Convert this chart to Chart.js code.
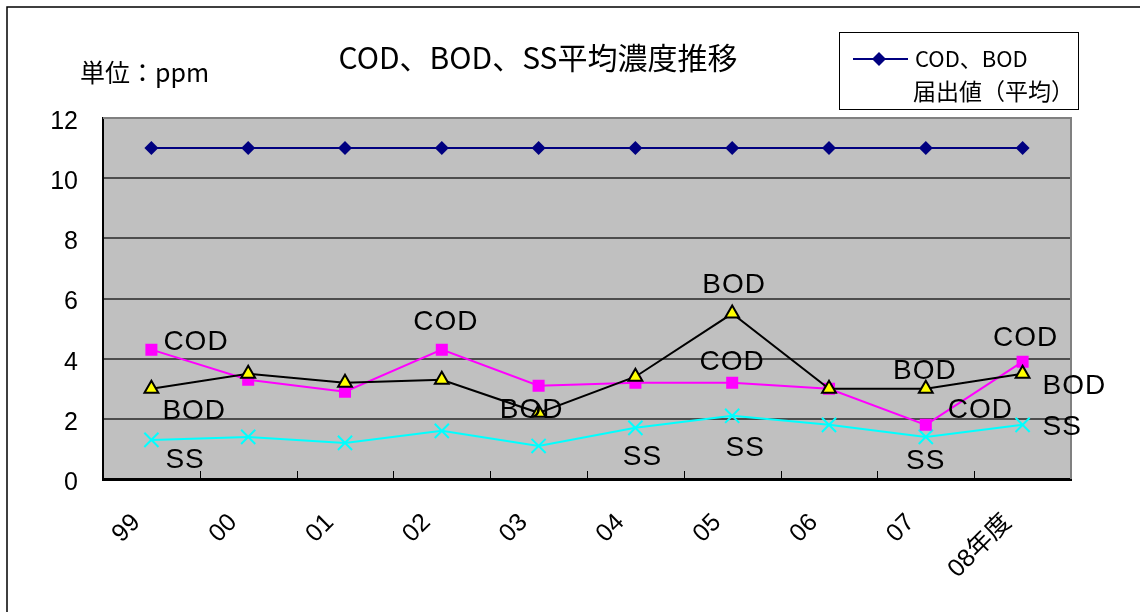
<!DOCTYPE html>
<html>
<head>
<meta charset="utf-8">
<script src="https://cdn.jsdelivr.net/npm/chart.js@4.4.1/dist/chart.umd.min.js"></script>
<style>
body { margin: 0; background: #fff; }
#wrap { width: 1140px; height: 612px; position: relative; }
</style>
</head>
<body>
<div id="wrap"><canvas id="chart" width="1140" height="612"></canvas></div>
<script>
// data
var years = ['99', '00', '01', '02', '03', '04', '05', '06', '07', '08年度'];
var limitValues = [11, 11, 11, 11, 11, 11, 11, 11, 11, 11];
var codValues = [4.3, 3.3, 2.9, 4.3, 3.1, 3.2, 3.2, 3.0, 1.8, 3.9];
var bodValues = [3.0, 3.5, 3.2, 3.3, 2.2, 3.4, 5.5, 3.0, 3.0, 3.5];
var ssValues = [1.3, 1.4, 1.2, 1.6, 1.1, 1.7, 2.1, 1.8, 1.4, 1.8];
var yTicks = [0, 2, 4, 6, 8, 10, 12];

var titleText = 'COD、BOD、SS平均濃度推移';
var unitText = '単位：ppm';
var legendLines = ['COD、BOD', '届出値（平均）'];

// series names written next to some points (offsets from the point)
var pointLabels = [
    { series: 'COD', index: 0, dx: 12, dy: -7, align: 'left' },
    { series: 'COD', index: 3, dx: 4, dy: -27, align: 'center' },
    { series: 'COD', index: 6, dx: 0, dy: -20, align: 'center' },
    { series: 'COD', index: 8, dx: 22, dy: -15, align: 'left' },
    { series: 'COD', index: 9, dx: 3, dy: -23, align: 'center' },
    { series: 'BOD', index: 0, dx: 11, dy: 23, align: 'left' },
    { series: 'BOD', index: 4, dx: -7, dy: -3, align: 'center' },
    { series: 'BOD', index: 6, dx: 2, dy: -28, align: 'center' },
    { series: 'BOD', index: 8, dx: -1, dy: -17, align: 'center' },
    { series: 'BOD', index: 9, dx: 20, dy: 13, align: 'left' },
    { series: 'SS', index: 0, dx: 14, dy: 20, align: 'left' },
    { series: 'SS', index: 5, dx: 7, dy: 29, align: 'center' },
    { series: 'SS', index: 6, dx: 13, dy: 32, align: 'center' },
    { series: 'SS', index: 8, dx: 0, dy: 24, align: 'center' },
    { series: 'SS', index: 9, dx: 20, dy: 2, align: 'left' }
];

var latinFont = "'Liberation Sans', Arial, 'Noto Sans CJK JP', sans-serif";
var jpFont = "'Noto Sans CJK JP', 'Liberation Sans', sans-serif";

var decor = {
    id: 'decor',
    beforeDraw: function(chart) {
        var ctx = chart.ctx, a = chart.chartArea;
        ctx.save();
        ctx.fillStyle = '#fff';
        ctx.fillRect(0, 0, chart.width, chart.height);
        ctx.strokeStyle = '#000';
        ctx.lineWidth = 1.5;
        ctx.beginPath();
        ctx.moveTo(7, chart.height);
        ctx.lineTo(7, 7);
        ctx.lineTo(chart.width, 7);
        ctx.stroke();
        ctx.fillStyle = '#c0c0c0';
        ctx.fillRect(a.left, a.top, a.right - a.left, a.bottom - a.top);
        ctx.restore();
    },
    beforeDatasetsDraw: function(chart) {
        var ctx = chart.ctx, a = chart.chartArea, xs = chart.scales.x;
        ctx.save();
        ctx.strokeStyle = '#808080';
        ctx.lineWidth = 2;
        ctx.beginPath();
        ctx.moveTo(a.left, a.top);
        ctx.lineTo(a.right, a.top);
        ctx.lineTo(a.right, a.bottom);
        ctx.stroke();
        ctx.strokeStyle = '#000';
        ctx.lineWidth = 1;
        for (var i = 1; i < years.length; i++) {
            var px = Math.round(xs.getPixelForValue(i - 0.5)) + 0.5;
            ctx.beginPath();
            ctx.moveTo(px, a.bottom);
            ctx.lineTo(px, a.bottom - 8);
            ctx.stroke();
        }
        ctx.restore();
    },
    afterDraw: function(chart) {
        var ctx = chart.ctx;
        ctx.save();
        ctx.fillStyle = '#000';
        ctx.textBaseline = 'middle';

        // title and unit
        ctx.textAlign = 'center';
        ctx.font = '30px ' + jpFont;
        ctx.fillText(titleText, 538, 58);
        ctx.textAlign = 'left';
        ctx.font = '25px ' + jpFont;
        ctx.fillText(unitText, 80, 72);

        // series names next to points
        ctx.font = '28px ' + latinFont;
        ctx.letterSpacing = '1px';
        pointLabels.forEach(function(p) {
            var d = chart.data.datasets.findIndex(function(ds) { return ds.label == p.series; });
            var pt = chart.getDatasetMeta(d).data[p.index];
            ctx.textAlign = p.align;
            ctx.fillText(p.series, pt.x + p.dx, pt.y + p.dy);
        });
        ctx.letterSpacing = '0px';

        // legend box
        ctx.strokeStyle = '#000';
        ctx.lineWidth = 1;
        ctx.strokeRect(839.5, 32.5, 239, 77);
        ctx.strokeStyle = '#000080';
        ctx.lineWidth = 2;
        ctx.beginPath();
        ctx.moveTo(853, 59);
        ctx.lineTo(908, 59);
        ctx.stroke();
        ctx.fillStyle = '#000080';
        ctx.beginPath();
        ctx.moveTo(879, 52);
        ctx.lineTo(886, 59);
        ctx.lineTo(879, 66);
        ctx.lineTo(872, 59);
        ctx.closePath();
        ctx.fill();
        ctx.fillStyle = '#000';
        ctx.textAlign = 'left';
        ctx.font = '22px ' + jpFont;
        ctx.fillText(legendLines[0], 915, 59);
        ctx.font = '23px ' + jpFont;
        ctx.fillText(legendLines[1], 913, 91);
        ctx.restore();
    }
};

var ctx = document.getElementById('chart').getContext('2d');
var myChart = new Chart(ctx, {
    type: 'line',
    data: {
        labels: years,
        datasets: [{
            label: 'COD、BOD届出値(平均)',
            data: limitValues,
            borderColor: '#000080',
            backgroundColor: '#000080',
            borderWidth: 2,
            pointStyle: 'rectRot',
            pointRadius: 7,
            pointBorderWidth: 0,
            order: 1
        }, {
            label: 'BOD',
            data: bodValues,
            borderColor: '#000',
            backgroundColor: '#ffff00',
            pointBackgroundColor: '#ffff00',
            pointBorderColor: '#000',
            borderWidth: 2,
            pointStyle: 'triangle',
            pointRadius: 8,
            pointBorderWidth: 2,
            order: 2
        }, {
            label: 'COD',
            data: codValues,
            borderColor: '#ff00ff',
            backgroundColor: '#ff00ff',
            borderWidth: 2,
            pointStyle: 'rect',
            pointRadius: 8.5,
            pointBorderWidth: 0,
            order: 3
        }, {
            label: 'SS',
            data: ssValues,
            borderColor: '#00ffff',
            backgroundColor: '#00ffff',
            pointBorderColor: '#00ffff',
            borderWidth: 2,
            pointStyle: 'crossRot',
            pointRadius: 10,
            pointBorderWidth: 2,
            order: 4
        }]
    },
    options: {
        responsive: false,
        animation: false,
        devicePixelRatio: 1,
        layout: { padding: { top: 118, right: 69, left: 0, bottom: 0 } },
        plugins: {
            legend: { display: false },
            title: { display: false },
            tooltip: { enabled: false }
        },
        elements: { line: { tension: 0 } },
        scales: {
            x: {
                offset: true,
                grid: { display: false, drawTicks: false },
                border: { display: true, color: '#000', width: 3 },
                ticks: {
                    color: '#000',
                    font: { size: 25, family: latinFont },
                    minRotation: 45,
                    maxRotation: 45,
                    padding: 29,
                    labelOffset: -15,
                    autoSkip: false
                },
                afterFit: function(scale) { scale.height = 133; }
            },
            y: {
                min: 0,
                max: 12,
                afterBuildTicks: function(scale) {
                    scale.ticks = yTicks.map(function(v) { return { value: v }; });
                },
                grid: { color: '#4d4d4d', lineWidth: 2, drawTicks: false },
                border: { display: true, color: '#000', width: 2 },
                ticks: {
                    color: '#000',
                    font: { size: 25, family: latinFont },
                    padding: 25,
                    labelOffset: 4
                },
                afterFit: function(scale) { scale.width = 103; }
            }
        }
    },
    plugins: [decor]
});
</script>
</body>
</html>
